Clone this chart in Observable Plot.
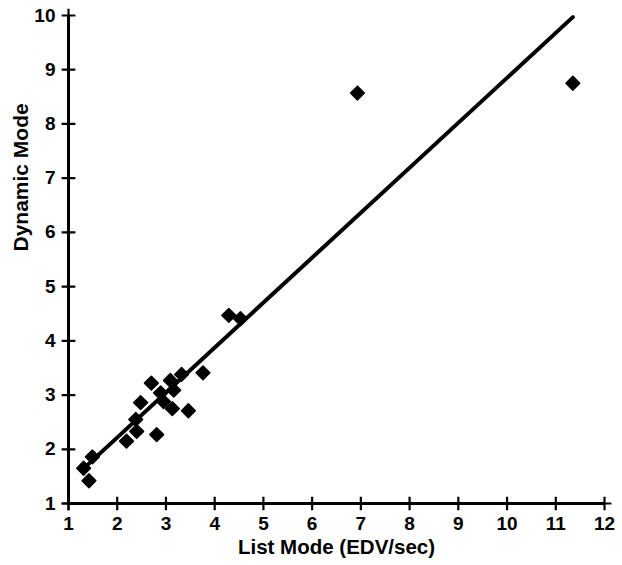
<!DOCTYPE html>
<html><head><meta charset="utf-8">
<script src="https://cdn.jsdelivr.net/npm/d3@7"></script>
<script src="https://cdn.jsdelivr.net/npm/@observablehq/plot@0.6"></script>
<style>
html,body{margin:0;padding:0;background:#fff;}
#chart svg{display:block;}
</style>
</head><body><div id="chart"></div>
<script>
// Data
const listMode = [1.31, 1.42, 1.49, 2.19, 2.40, 2.38, 2.48, 2.81, 2.70, 2.89, 2.95, 3.09, 3.16, 3.13, 3.32, 3.46, 3.76, 4.29, 4.53, 6.93, 11.35];
const dynamicMode = [1.65, 1.42, 1.86, 2.15, 2.33, 2.55, 2.86, 2.27, 3.22, 3.04, 2.88, 3.27, 3.09, 2.75, 3.38, 2.71, 3.41, 4.47, 4.41, 8.57, 8.75];
const fitX = [1.28, 11.35];
const fitY = [1.62, 9.97];
const xTicks = [1,2,3,4,5,6,7,8,9,10,11,12];
const yTicks = [1,2,3,4,5,6,7,8,9,10];

const points = listMode.map((x, i) => ({x, y: dynamicMode[i]}));
const fit = fitX.map((x, i) => ({x, y: fitY[i]}));
const font = "'Liberation Sans', Arial, sans-serif";

const chart = Plot.plot({
  width: 622,
  height: 565,
  marginLeft: 68,
  marginRight: 18,
  marginTop: 15,
  marginBottom: 62,
  style: {fontFamily: font, background: "#fff", color: "#000"},
  x: {domain: [1, 12]},
  y: {domain: [1, 10]},
  marks: [
    Plot.ruleX([1], {stroke: "#000", strokeWidth: 3}),
    Plot.ruleY([1], {stroke: "#000", strokeWidth: 3}),
    Plot.dot(xTicks, {x: d => d, y: 1, symbol: "plus", r: 4.5, stroke: "#000", strokeWidth: 2.2}),
    Plot.dot(yTicks, {x: 1, y: d => d, symbol: "plus", r: 4.5, stroke: "#000", strokeWidth: 2.2}),
    Plot.axisX(xTicks, {tickSize: 0, tickPadding: 13, fontSize: 19, fontWeight: "bold", label: null, tickFormat: d => String(d)}),
    Plot.axisY(yTicks, {tickSize: 0, tickPadding: 13, fontSize: 19, fontWeight: "bold", label: null, tickFormat: d => String(d)}),
    Plot.text(["List Mode (EDV/sec)"], {frameAnchor: "bottom", dy: 50, fontSize: 20.5, fontWeight: "bold", fill: "#000"}),
    Plot.text(["Dynamic Mode"], {frameAnchor: "left", dx: -47, dy: -8, rotate: -90, fontSize: 21, fontWeight: "bold", fill: "#000"}),
    Plot.line(fit, {x: "x", y: "y", stroke: "#000", strokeWidth: 4, strokeLinecap: "round"}),
    Plot.dot(points, {x: "x", y: "y", symbol: "diamond2", r: 6.2, fill: "#000", stroke: "#000", strokeWidth: 1.5, strokeLinejoin: "round"})
  ]
});
document.getElementById("chart").appendChild(chart);
</script>
</body></html>
